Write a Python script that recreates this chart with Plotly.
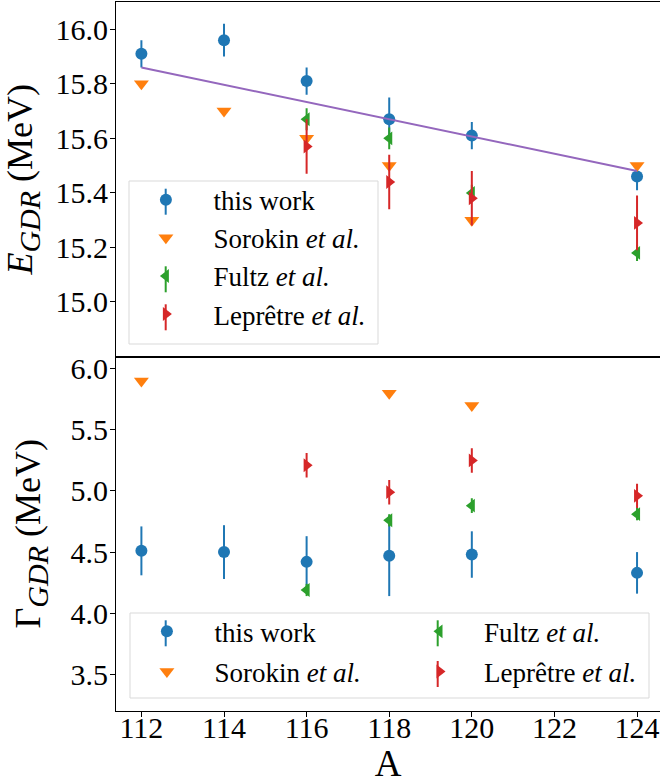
import plotly.graph_objects as go

# Mass numbers and GDR parameters (MeV)
A_this = [112, 114, 116, 118, 120, 124]
E_this = [15.91, 15.96, 15.81, 15.67, 15.61, 15.46]
E_this_err = [0.05, 0.06, 0.05, 0.08, 0.05, 0.05]
G_this = [4.51, 4.50, 4.42, 4.47, 4.48, 4.33]
G_this_err = [0.20, 0.22, 0.21, 0.33, 0.19, 0.17]

A_sorokin_E = [112, 114, 116, 118, 120, 124]
E_sorokin = [15.80, 15.70, 15.60, 15.50, 15.30, 15.50]
A_sorokin_G = [112, 118, 120]
G_sorokin = [5.90, 5.80, 5.70]

A_fultz = [116, 118, 120, 124]
E_fultz = [15.67, 15.60, 15.40, 15.18]
E_fultz_err = [0.04, 0.04, 0.03, 0.03]
G_fultz = [4.19, 4.76, 4.88, 4.81]
G_fultz_err = [0.05, 0.05, 0.06, 0.05]

A_lepretre = [116, 118, 120, 124]
E_lepretre = [15.57, 15.44, 15.38, 15.29]
E_lepretre_err = [0.10, 0.10, 0.10, 0.10]
G_lepretre = [5.21, 4.99, 5.25, 4.96]
G_lepretre_err = [0.10, 0.10, 0.10, 0.10]

# systematics line for the centroid energy
A_syst = [112, 124]
E_syst = [15.86, 15.48]

E_ticks = [15.0, 15.2, 15.4, 15.6, 15.8, 16.0]
G_ticks = [3.5, 4.0, 4.5, 5.0, 5.5, 6.0]
A_ticks = [112, 114, 116, 118, 120, 122, 124]

BLUE, ORANGE, GREEN, RED, PURPLE = "#1f77b4", "#ff7f0e", "#2ca02c", "#d62728", "#9467bd"
FONT = "Liberation Serif"

W, H = 660, 784
ML, MR, MT, MB = 116, 0, 2, 73
PW, PH = W - ML - MR, H - MT - MB


def px_x(x):
    return (x - ML) / PW


def px_y(y):
    return (H - MB - y) / PH


def err(arr, color):
    return dict(type="data", array=arr, visible=True, thickness=2, width=0, color=color)


fig = go.Figure()

series = [
    ("this work", "circle", 12, BLUE, A_this, E_this, E_this_err, A_this, G_this, G_this_err, "legend2"),
    ("Sorokin <i>et al.</i>", "triangle-down", 13, ORANGE, A_sorokin_E, E_sorokin, None,
     A_sorokin_G, G_sorokin, None, "legend2"),
    ("Fultz <i>et al.</i>", "triangle-left", 12, GREEN, A_fultz, E_fultz, E_fultz_err,
     A_fultz, G_fultz, G_fultz_err, "legend3"),
    ("Leprêtre <i>et al.</i>", "triangle-right", 12, RED, A_lepretre, E_lepretre, E_lepretre_err,
     A_lepretre, G_lepretre, G_lepretre_err, "legend3"),
]

for i, (name, sym, ms, col, xa, ya, ea, xb, yb, eb, leg_b) in enumerate(series):
    fig.add_trace(go.Scatter(
        x=xa, y=ya, mode="markers", name=name, xaxis="x", yaxis="y",
        marker=dict(symbol=sym, color=col, size=ms, line=dict(width=0)),
        error_y=err(ea, col) if ea is not None else None,
        legend="legend", legendgroup="top%d" % i,
    ))

for i, (name, sym, ms, col, xa, ya, ea, xb, yb, eb, leg_b) in enumerate(series):
    fig.add_trace(go.Scatter(
        x=xb, y=yb, mode="markers", name=name, xaxis="x2", yaxis="y2",
        marker=dict(symbol=sym, color=col, size=ms, line=dict(width=0)),
        error_y=err(eb, col) if eb is not None else None,
        legend=leg_b, legendgroup="bot%d" % i,
    ))

fig.add_trace(go.Scatter(
    x=A_syst, y=E_syst, mode="lines", xaxis="x", yaxis="y",
    line=dict(color=PURPLE, width=2), showlegend=False,
))

tickfont = dict(family=FONT, size=30, color="black")
axis_common = dict(showgrid=False, zeroline=False, showline=True, linecolor="black",
                   linewidth=1, ticks="outside", ticklen=5, tickwidth=1, tickcolor="black",
                   tickfont=tickfont)

XR = [111.385, 124.556]
sub = "<span style='font-size:30px'><i>GDR</i></span>"

# legend frames and the error-bar strokes of the legend keys
shapes = [
    dict(type="rect", xref="paper", yref="paper", x0=px_x(129), x1=px_x(378),
         y0=px_y(344), y1=px_y(181), line=dict(color="#d9d9d9", width=1),
         fillcolor="rgba(255,255,255,0.8)", layer="above"),
    dict(type="rect", xref="paper", yref="paper", x0=px_x(130), x1=px_x(649),
         y0=px_y(698), y1=px_y(613), line=dict(color="#d9d9d9", width=1),
         fillcolor="rgba(255,255,255,0.8)", layer="above"),
]
key_strokes = [
    (165.7, 201.7, BLUE), (165.7, 279.3, GREEN), (165.7, 317.3, RED),
    (165.7, 633.3, BLUE), (437.7, 633.3, GREEN), (437.7, 674.0, RED),
]
for kx, ky, kc in key_strokes:
    shapes.append(dict(type="line", xref="paper", yref="paper",
                       x0=px_x(kx), x1=px_x(kx), y0=px_y(ky + 13), y1=px_y(ky - 13),
                       line=dict(color=kc, width=2), layer="above"))

fig.update_layout(
    width=W, height=H,
    margin=dict(l=ML, r=MR, t=MT, b=MB, autoexpand=False),
    paper_bgcolor="white", plot_bgcolor="white",
    font=dict(family=FONT, color="black"),
    xaxis=dict(axis_common, domain=[0, 1], anchor="y", range=XR, matches="x2",
               showticklabels=False, ticks="", mirror=True),
    xaxis2=dict(axis_common, domain=[0, 1], anchor="y2", range=XR, tickvals=A_ticks,
                mirror=True, ticklabelstandoff=-15,
                title=dict(text="A", font=dict(family=FONT, size=37), standoff=8)),
    yaxis=dict(axis_common, domain=[0.5, 1], anchor="x", range=[14.8, 16.1], tickvals=E_ticks,
               ticktext=["%.1f" % v for v in E_ticks], ticklabelstandoff=-4,
               title=dict(text="<i>E</i><sub>" + sub + "</sub> (MeV)",
                          font=dict(family=FONT, size=36), standoff=18)),
    yaxis2=dict(axis_common, domain=[0, 0.5], anchor="x2", range=[3.2, 6.1], tickvals=G_ticks,
                ticktext=["%.1f" % v for v in G_ticks], ticklabelstandoff=-4,
                title=dict(text="Γ<sub>" + sub + "</sub> (MeV)",
                           font=dict(family=FONT, size=36), standoff=18)),
    legend=dict(x=px_x(118.4), y=px_y(175.7), xanchor="left", yanchor="top",
                bgcolor="rgba(0,0,0,0)", borderwidth=0, itemwidth=85, tracegroupgap=0,
                font=dict(family=FONT, size=27)),
    legend2=dict(x=px_x(119.4), y=px_y(607.3), xanchor="left", yanchor="top",
                 bgcolor="rgba(0,0,0,0)", borderwidth=0, itemwidth=85, tracegroupgap=2,
                 font=dict(family=FONT, size=27)),
    legend3=dict(x=px_x(395), y=px_y(607.3), xanchor="left", yanchor="top",
                 bgcolor="rgba(0,0,0,0)", borderwidth=0, itemwidth=79, tracegroupgap=2,
                 font=dict(family=FONT, size=27)),
    shapes=shapes,
)

fig.write_html("out.html")
